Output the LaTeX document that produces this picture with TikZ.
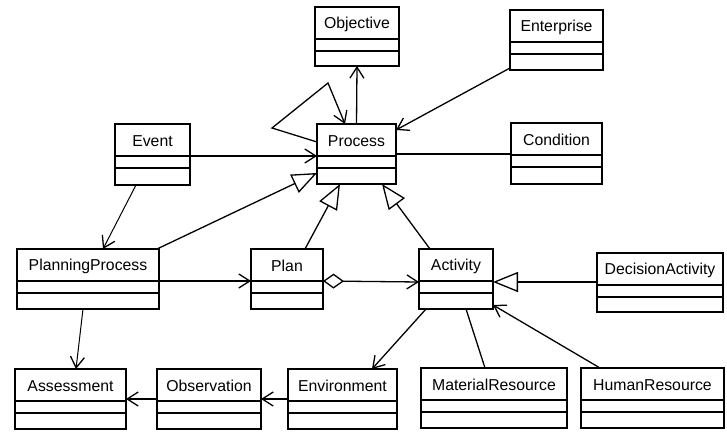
\documentclass[tikz,border=0pt]{standalone}
\usepackage{fontspec}
\setmainfont{Liberation Sans}
\usetikzlibrary{arrows.meta}

\tikzset{
  classbox/.style={draw, line width=1.6pt, rectangle, inner sep=0pt, outer sep=0pt, anchor=north west},
  compline/.style={line width=1.8pt},
  classname/.style={font=\fontsize{15.8}{17}\selectfont, inner sep=0pt},
  navtip/.tip={Straight Barb[length=11pt,width=14pt,line width=1.3pt]},
  assoc/.style={line width=1.3pt, -navtip},
  thinassoc/.style={line width=1pt, -navtip},
  plainlink/.style={line width=1.3pt},
  generalize/.style={line width=1.3pt, -{Triangle[open,length=25pt,width=20pt,line width=1.3pt]}},
  aggregate/.style={line width=1.3pt, {Diamond[open,length=21pt,width=15pt,line width=1.3pt]}-navtip},
}

% UML class: name, left, top, width, height, class name
\newcommand{\umlclass}[6]{%
  \node[classbox, minimum width=#4pt, minimum height=#5pt] (#1) at (#2,#3) {};
  \draw[compline] ([yshift=-32pt]#1.north west) -- ([yshift=-32pt]#1.north east);
  \draw[compline] ([yshift=-44pt]#1.north west) -- ([yshift=-44pt]#1.north east);
  \node[classname] (#1-name) at ([yshift=-17pt]#1.north) {#6};
}

\begin{document}
\begin{tikzpicture}[x=1pt, y=-1pt]
  \useasboundingbox (0,0) rectangle (727,435);

  % classes
  \umlclass{obj}{315}{7}{84}{59}{Objective}
  \umlclass{ent}{510}{10}{93}{60}{Enterprise}
  \umlclass{proc}{317}{124}{79}{60}{Process}
  \umlclass{cond}{511}{123}{91}{61}{Condition}
  \umlclass{ev}{115}{124}{75}{61}{Event}
  \umlclass{pp}{17}{249}{142}{60}{PlanningProcess}
  \umlclass{plan}{251}{249}{72}{60}{Plan}
  \umlclass{act}{419}{249}{74}{60}{Activity}
  \umlclass{dec}{597}{253}{126}{59}{DecisionActivity}
  \umlclass{ass}{15}{369}{111}{60}{Assessment}
  \umlclass{obs}{157}{369}{104}{60}{Observation}
  \umlclass{env}{288}{369}{109}{60}{Environment}
  \umlclass{mat}{421}{368}{146}{60}{MaterialResource}
  \umlclass{hum}{581}{368}{143}{60}{HumanResource}

  % associations around Process
  \draw[assoc] (proc.north) -- (obj.south);
  \draw[assoc] ([yshift=2pt]ent.south west) -- ([yshift=-6pt]proc.north east);
  \draw[assoc] ([yshift=-18pt]proc.north west) -- (272,128) -- (328,83) -- ([xshift=28pt]proc.north west);
  \draw[assoc] ([yshift=-32pt]ev.north east) -- ([yshift=-32pt]proc.north west);
  \draw[plainlink] ([yshift=-30pt]proc.north east) -- ([yshift=-31pt]cond.north west);
  \draw[thinassoc] ([xshift=21pt]ev.south west) -- ([xshift=86pt]pp.north west);

  % generalizations
  \draw[generalize] ([xshift=-2pt]pp.north east) -- ([yshift=11pt]proc.south west);
  \draw[generalize] ([xshift=-18pt]plan.north east) -- ([xshift=23pt]proc.south west);
  \draw[generalize] ([xshift=11pt]act.north west) -- ([xshift=-14pt]proc.south east);
  \draw[generalize] ([yshift=-29pt]dec.north west) -- ([yshift=-33pt]act.north east);

  % middle row
  \draw[assoc] ([yshift=-32pt]pp.north east) -- ([yshift=-32pt]plan.north west);
  \draw[aggregate] ([yshift=-32pt]plan.north east) -- ([yshift=-33pt]act.north west);

  % Activity and resources
  \draw[assoc] ([xshift=7pt]act.south west) -- ([xshift=-25pt]env.north east);
  \draw[plainlink] ([xshift=47pt]act.south west) -- ([xshift=64pt]mat.north west);
  \draw[assoc] ([xshift=19pt]hum.north west) -- ([yshift=4pt]act.south east);

  % bottom row
  \draw[thinassoc] ([xshift=66pt]pp.south west) -- ([xshift=61pt]ass.north west);
  \draw[assoc] ([yshift=-30pt]obs.north west) -- ([yshift=-30pt]ass.north east);
  \draw[assoc] ([yshift=-30pt]env.north west) -- ([yshift=-30pt]obs.north east);
\end{tikzpicture}
\end{document}
